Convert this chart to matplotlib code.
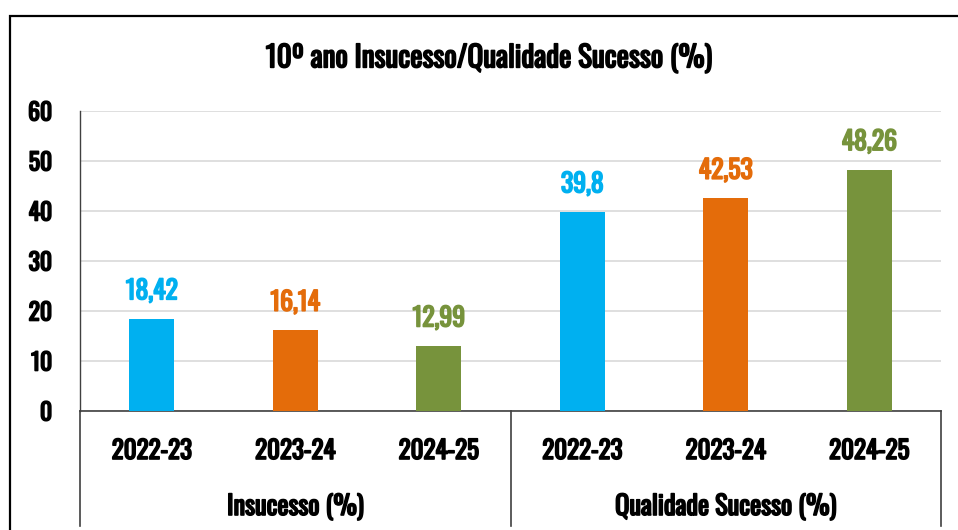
import matplotlib.pyplot as plt
import matplotlib.patheffects as pe
from matplotlib.patches import Rectangle
import numpy as np

plt.rcParams.update({
    "font.family": ["Oswald", "Open Sans Condensed", "DejaVu Sans"],
    "font.weight": "bold",
})

# ── Data ─────────────────────────────────────────────────────────────
groups = ["Insucesso (%)", "Qualidade Sucesso (%)"]
years = ["2022-23", "2023-24", "2024-25"]
insucesso = [18.42, 16.14, 12.99]
qualidade = [39.8, 42.53, 48.26]
yticks = [0, 10, 20, 30, 40, 50, 60]

COLORS = ["#00B0F0", "#E46C0A", "#77933C"]
W, H = 958, 530


def bold(color="black", lw=1.2):
    # Oswald only ships one weight here, so thicken the strokes
    return [pe.withStroke(linewidth=lw, foreground=color)]


fig = plt.figure(figsize=(W / 100, H / 100), dpi=100)
ax = fig.add_axes([80 / W, 119 / H, 861 / W, 300 / H])

values = insucesso + qualidade
x = np.arange(len(values))
colors = COLORS * len(groups)
bars = ax.bar(x, values, width=0.314, color=colors, zorder=3)

for xi, v, c in zip(x, values, colors):
    ax.annotate(f"{v:g}".replace(".", ","), (xi, v), xytext=(0, 10.5),
                textcoords="offset points", ha="center", va="bottom",
                color=c, fontsize=18.5, fontweight="bold",
                path_effects=bold(c))

ax.set_xlim(-0.5, len(values) - 0.5)
ax.set_ylim(0, 60)
ax.set_yticks(yticks)
ax.set_yticklabels([str(t) for t in yticks], fontsize=17, fontweight="bold")
for t in ax.get_yticklabels():
    t.set_path_effects(bold())
ax.tick_params(axis="y", length=0, pad=20)
ax.set_xticks([])
ax.grid(axis="y", color="#D9D9D9", linewidth=1.2, zorder=0)
for s in ["top", "right"]:
    ax.spines[s].set_visible(False)
ax.spines["left"].set_color("#404040")
ax.spines["bottom"].set_color("#404040")
ax.spines["left"].set_linewidth(1.0)
ax.spines["bottom"].set_linewidth(1.2)

# multi-level category axis
trans = ax.get_xaxis_transform()
px = 1 / 300  # one pixel in axes-y units
for xi, lab in zip(x, years * len(groups)):
    ax.text(xi, -40 * px, lab, transform=trans, ha="center", va="center",
            fontsize=18, fontweight="bold", clip_on=False,
            path_effects=bold())
for gi, g in enumerate(groups):
    center = gi * len(years) + (len(years) - 1) / 2
    ax.text(center, -96 * px, g, transform=trans, ha="center", va="center",
            fontsize=19, fontweight="bold", clip_on=False,
            path_effects=bold())
for b in np.arange(len(groups) + 1) * len(years) - 0.5:
    ax.plot([b, b], [0, -115 * px], transform=trans, color="#404040",
            linewidth=1.2, clip_on=False)

fig.text(489 / W, 1 - 58 / H, "10º ano Insucesso/Qualidade Sucesso (%)",
         ha="center", va="center", fontsize=21, fontweight="bold",
         path_effects=bold())

# outer chart frame (cut by the image edge)
fig.patches.append(Rectangle((9.5 / W, -0.1), 1.2, 1 - 15.5 / H + 0.1,
                             transform=fig.transFigure, fill=False,
                             edgecolor="black", linewidth=1.6))

fig.savefig("out.png", dpi=100)
